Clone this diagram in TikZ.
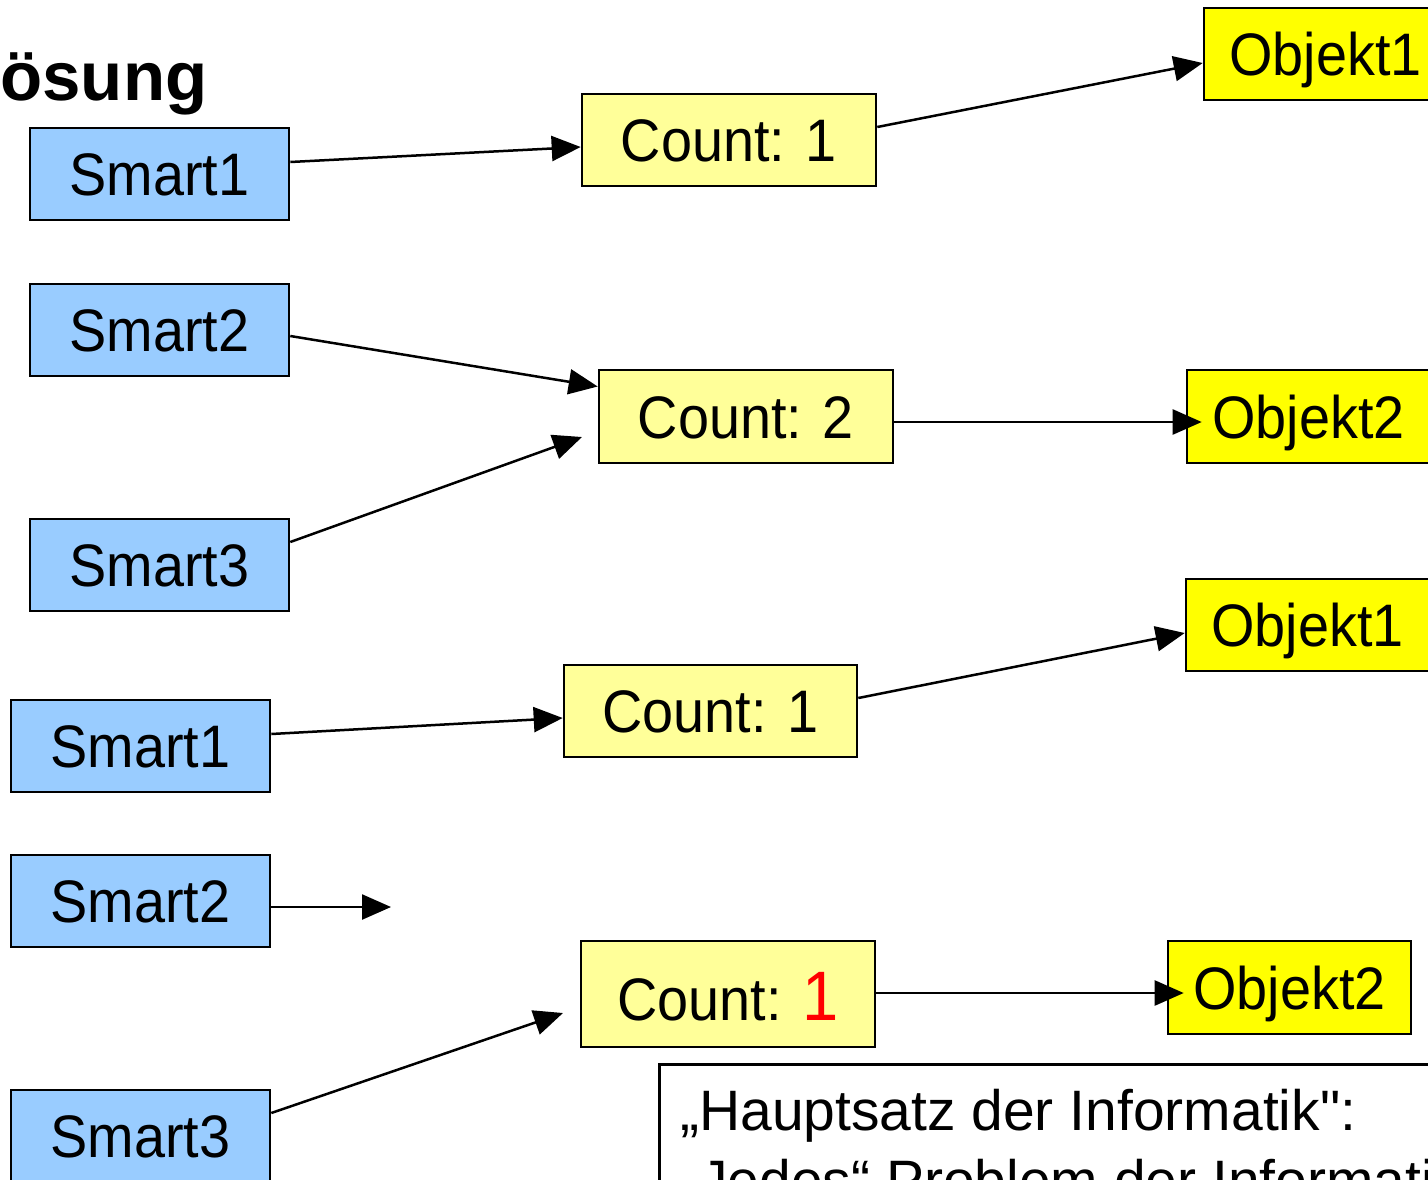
\documentclass[tikz,border=0pt]{standalone}
\usepackage{fontspec}
\setmainfont{Liberation Sans}
\newfontfamily\boxfont[FakeStretch=0.93]{Liberation Sans}
\newfontfamily\rawfont[Ligatures=TeXOff]{Liberation Sans}
\usetikzlibrary{arrows.meta}
\definecolor{smartblue}{HTML}{99CCFF}
\definecolor{countyellow}{HTML}{FFFF99}
\definecolor{objyellow}{HTML}{FFFF00}
\definecolor{redone}{HTML}{FF0000}
\tikzset{
  basebox/.style={draw=black, line width=2.6pt, inner sep=0pt, text height=43pt, text depth=0pt,
    font=\boxfont\fontsize{60}{72}\selectfont},
  smartbox/.style={basebox, fill=smartblue, minimum width=259pt, minimum height=92pt},
  countbox/.style={basebox, fill=countyellow, minimum width=294pt, minimum height=92pt},
  objbox/.style={basebox, fill=objyellow, minimum width=243pt, minimum height=92pt},
  conn/.style={line width=2.5pt, -{Triangle[length=29pt,width=25pt]}},
}
\begin{document}
\begin{tikzpicture}[x=1pt,y=-1pt]
\useasboundingbox (0,0) rectangle (1428,1179);
\clip (0,0) rectangle (1428,1179);
% title
\node[anchor=base west, inner sep=0pt, font=\bfseries\fontsize{69}{84}\selectfont] (title) at (-42,100) {Lösung};
% upper section
\node[smartbox] (S1a) at (159.5,174) {Smart1};
\node[smartbox] (S2a) at (159.5,330) {Smart2};
\node[smartbox] (S3a) at (159.5,565) {Smart3};
\node[countbox] (C1a) at (729,140) {Count: 1};
\node[countbox, minimum height=93pt] (C2a) at (746,416.5) {Count: 2};
\node[objbox] (O1a) at (1325.5,54) {Objekt1};
\node[objbox, minimum height=93pt] (O2a) at (1308.5,416.5) {Objekt2};
\coordinate (F1) at (582,437);
\draw[conn] ([yshift=12pt]S1a.east) -- ([yshift=-7pt]C1a.west);
\draw[conn] ([yshift=13pt]C1a.east) -- ([yshift=-9pt]O1a.west);
\draw[conn] ([yshift=-6pt]S2a.east) -- ([yshift=30pt]C2a.west);
\draw[conn] ([yshift=23pt]S3a.east) -- (F1);
\draw[conn] ([yshift=-5.5pt]C2a.east) -- ([yshift=-5.5pt,xshift=16pt]O2a.west);
% lower section
\node[smartbox] (S1b) at (140.5,746) {Smart1};
\node[smartbox] (S2b) at (140.5,901) {Smart2};
\node[smartbox] (S3b) at (140.5,1136) {Smart3};
\node[countbox, minimum width=293pt] (C1b) at (710.5,711) {Count: 1};
\node[objbox] (O1b) at (1307.5,625) {Objekt1};
\node[countbox, minimum height=106pt, text height=52pt] (C2b) at (728,994) {Count: {\fontsize{70}{84}\selectfont\color{redone}1}};
\node[objbox, minimum height=93pt] (O2b) at (1289.5,987.5) {Objekt2};
\coordinate (F2) at (391,907);
\coordinate (F3) at (563,1013);
\draw[conn] ([yshift=12pt]S1b.east) -- ([yshift=-7pt]C1b.west);
\draw[conn] ([yshift=13pt]C1b.east) -- ([yshift=-8pt]O1b.west);
\draw[conn] ([yshift=-6pt]S2b.east) -- (F2);
\draw[conn] ([yshift=23pt]S3b.east) -- (F3);
\draw[conn] ([yshift=1pt]C2b.east) -- ([yshift=-5.5pt,xshift=17pt]O2b.west);
% note box
\node[draw=black, line width=2.5pt, fill=white, anchor=north west, minimum width=900pt, minimum height=250pt, inner sep=0pt] (note) at (658,1063) {};
\node[anchor=base west, inner sep=0pt, font=\fontsize{57}{70}\selectfont] (noteA) at (680,1130) {„Hauptsatz der Informatik{\rawfont"}:};
\node[anchor=base west, inner sep=0pt, font=\fontsize{57}{70}\selectfont] (noteB) at (680,1200) {„Jedes“ Problem der Informatik};
\end{tikzpicture}
\end{document}
